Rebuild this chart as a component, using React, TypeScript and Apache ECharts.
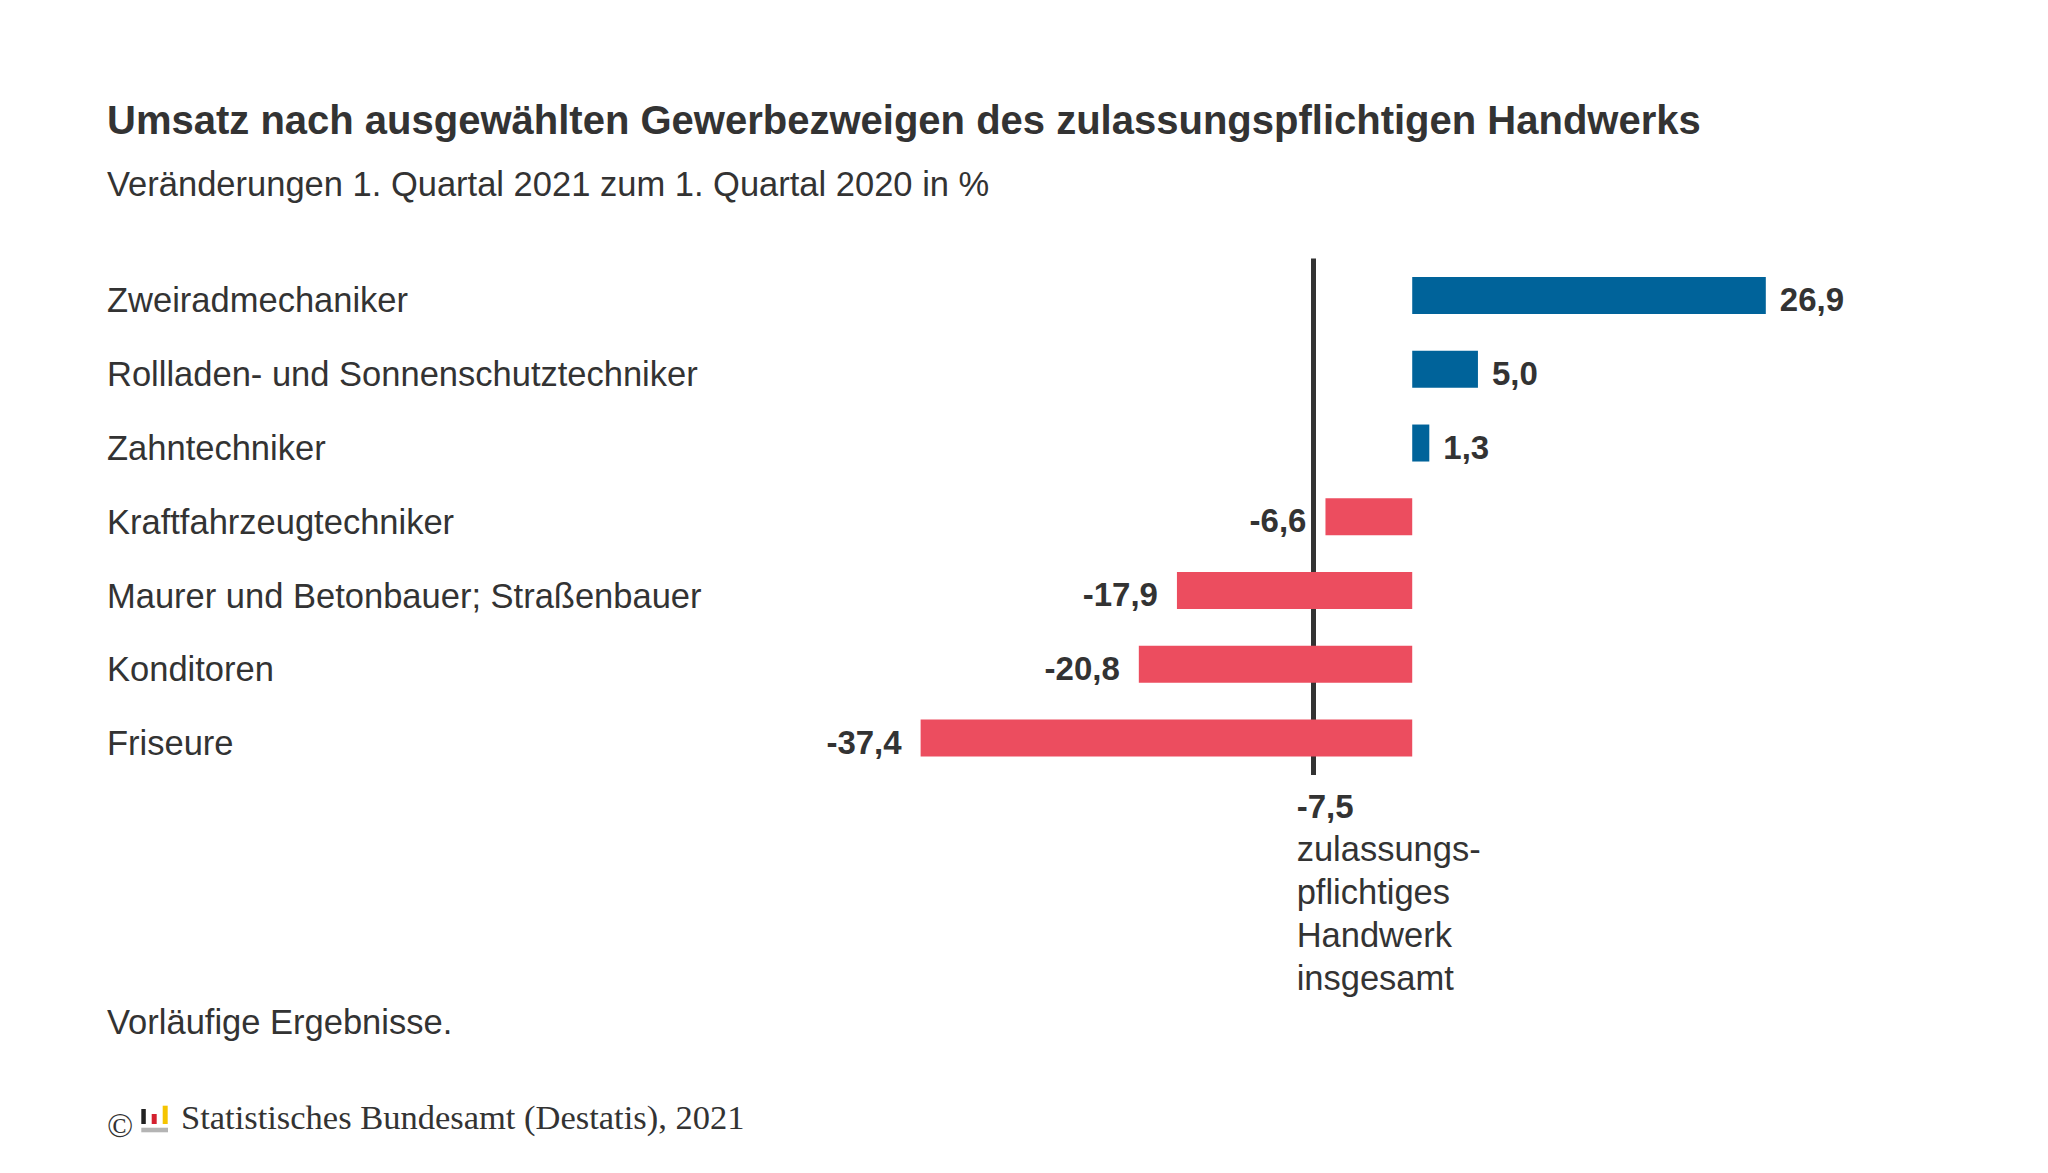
import React, { useEffect, useRef } from "react";
import * as echarts from "echarts";

const categories = [
  "Zweiradmechaniker",
  "Rollladen- und Sonnenschutztechniker",
  "Zahntechniker",
  "Kraftfahrzeugtechniker",
  "Maurer und Betonbauer; Straßenbauer",
  "Konditoren",
  "Friseure",
];
const values = [26.9, 5.0, 1.3, -6.6, -17.9, -20.8, -37.4];
const totalValue = -7.5;
const totalLabelLines = ["zulassungs-", "pflichtiges", "Handwerk", "insgesamt"];
const titleText = "Umsatz nach ausgewählten Gewerbezweigen des zulassungspflichtigen Handwerks";
const subtitleText = "Veränderungen 1. Quartal 2021 zum 1. Quartal 2020 in %";
const footnoteText = "Vorläufige Ergebnisse.";
const sourceText = "Statistisches Bundesamt (Destatis), 2021";

const SANS = "'Liberation Sans', Arial, Helvetica, sans-serif";
const SERIF = "'Liberation Serif', 'Times New Roman', Times, serif";
const TEXT = "#333333";
const BLUE = "#00639a";
const RED = "#ec4d5f";

const fmt = (v: number) => v.toFixed(1).replace(".", ",");

export default function App() {
  const ref = useRef<HTMLDivElement>(null);
  useEffect(() => {
    if (!ref.current) return;
    const chart = echarts.init(ref.current, null, { renderer: "svg" });
    const gridLeft = 755;
    const gridTop = 258.6;
    const gridHeight = 516.4;
    const option: any = {
      animation: false,
      backgroundColor: "#ffffff",
      title: [
        {
          text: titleText,
          left: 107,
          top: 100,
          padding: 0,
          textStyle: { fontFamily: SANS, fontSize: 40, fontWeight: "bold", color: TEXT },
        },
        {
          text: subtitleText,
          left: 107,
          top: 166,
          padding: 0,
          textStyle: { fontFamily: SANS, fontSize: 34.5, fontWeight: "normal", color: TEXT },
        },
      ],
      grid: { left: gridLeft, top: gridTop, width: 1183, height: gridHeight, containLabel: false },
      xAxis: {
        type: "value",
        min: -50,
        max: 40,
        show: false,
        splitLine: { show: false },
      },
      yAxis: {
        type: "category",
        data: categories,
        inverse: true,
        axisLine: { show: false },
        axisTick: { show: false },
        splitLine: { show: false },
        axisLabel: {
          align: "left",
          margin: gridLeft - 107,
          formatter: (v: string) => `{c|${v}}`,
          rich: {
            c: {
              fontFamily: SANS,
              fontSize: 34.5,
              color: TEXT,
              padding: [10, 0, 0, 0],
            },
          },
          fontFamily: SANS,
          fontSize: 34.5,
          color: TEXT,
        },
      },
      series: [
        {
          type: "bar",
          z: 3,
          barWidth: 37,
          data: values.map((v) => ({
            value: v,
            itemStyle: { color: v >= 0 ? BLUE : RED },
            label: {
              show: true,
              position: v >= 0 ? "right" : "left",
              distance: v >= 0 ? 14 : 19,
              offset: [0, 4],
              formatter: () => fmt(v),
              fontFamily: SANS,
              fontSize: 33,
              fontWeight: "bold",
              color: TEXT,
            },
          })),
          markLine: {
            z: 1,
            silent: true,
            symbol: ["none", "none"],
            label: { show: false },
            lineStyle: { color: TEXT, width: 5, type: "solid" },
            data: [{ xAxis: totalValue }],
          },
        },
      ],
      graphic: [
        {
          type: "text",
          left: 107,
          top: 1004,
          style: { text: footnoteText, font: `normal 34.5px ${SANS}`, fill: TEXT },
        },
        {
          type: "text",
          left: 107,
          top: 1107,
          style: { text: "©", font: `normal 34.5px ${SERIF}`, fill: TEXT },
        },
        { type: "rect", shape: { x: 141.3, y: 1109, width: 4.5, height: 15 }, style: { fill: "#222222" } },
        { type: "rect", shape: { x: 151.7, y: 1114, width: 5, height: 10 }, style: { fill: "#d4202f" } },
        { type: "rect", shape: { x: 162.7, y: 1105.7, width: 5, height: 18.3 }, style: { fill: "#f5c400" } },
        { type: "rect", shape: { x: 141.3, y: 1127.7, width: 26.7, height: 4.6 }, style: { fill: "#b4b4b4" } },
        {
          type: "text",
          left: 181,
          top: 1099,
          style: { text: sourceText, font: `normal 34.5px ${SERIF}`, fill: TEXT },
        },
      ],
    };
    chart.setOption(option);

    const px = chart.convertToPixel({ xAxisIndex: 0 }, totalValue) as number;
    const gridBottom = gridTop + gridHeight;
    chart.setOption({
      graphic: [
        ...option.graphic,
        {
          type: "text",
          x: px - 17,
          y: gridBottom + 9.5,
          style: {
            text: `{b|${fmt(totalValue)}}\n` + totalLabelLines.map((l) => `{n|${l}}`).join("\n"),
            verticalAlign: "top",
            align: "left",
            fill: TEXT,
            rich: {
              b: { fontFamily: SANS, fontSize: 33, fontWeight: "bold", lineHeight: 43, fill: TEXT },
              n: { fontFamily: SANS, fontSize: 34.5, fontWeight: "normal", lineHeight: 43, fill: TEXT },
            },
          },
        },
      ],
    });

    return () => chart.dispose();
  }, []);
  return (
    <div
      ref={ref}
      style={{ position: "fixed", left: 0, top: 0, width: 2048, height: 1173, background: "#fff" }}
    />
  );
}
